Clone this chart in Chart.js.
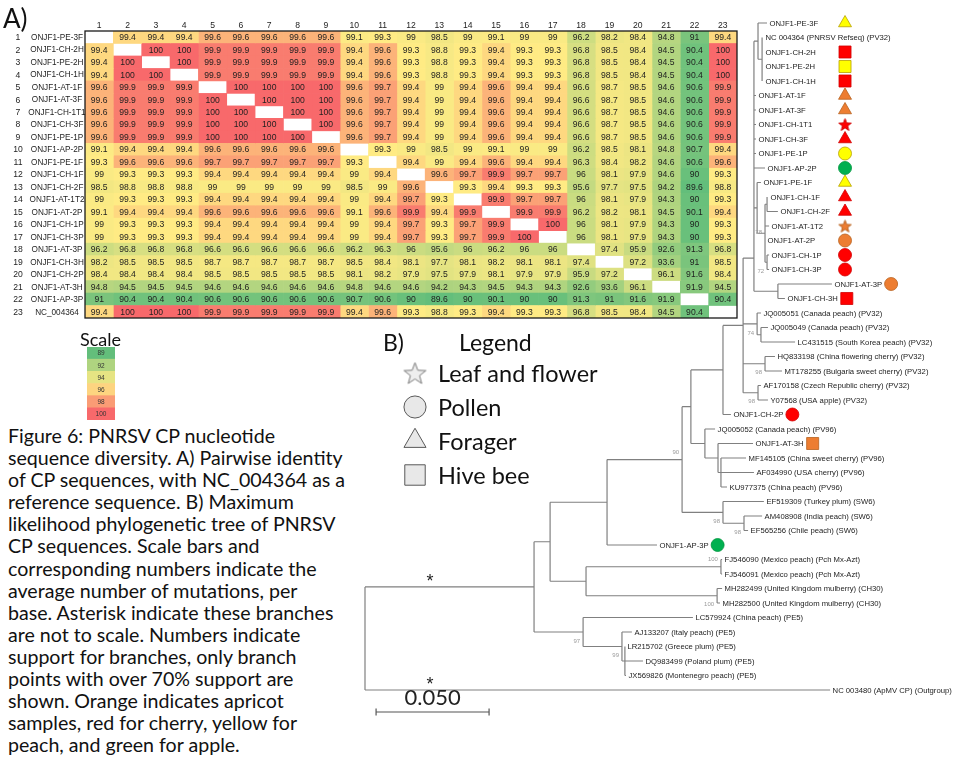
<!DOCTYPE html>
<html>
<head>
<meta charset="utf-8">
<title>PNRSV CP nucleotide sequence diversity</title>
<script src="https://cdn.jsdelivr.net/npm/chart.js"></script>
<style>
	body { margin: 0; width: 954px; height: 767px; position: relative; overflow: hidden; background: #fff; color: #111; font-family: Lato, "Liberation Sans", sans-serif; }
	canvas, .txt { position: absolute; }
	.txt { white-space: nowrap; }
	#heat { left: 0; top: 0; }
	#scale { left: 87px; top: 347px; }
	#tree { left: 355px; top: 0; }
	#legend { left: 380px; top: 325px; }
	#labelA { left: 3px; top: 1px; font-size: 26px; line-height: 34px; }
	#scaleTitle { left: 80px; top: 327px; font-size: 18px; line-height: 24px; }
	#labelB { left: 383px; top: 327px; font-size: 23px; line-height: 30px; }
	#legendTitle { left: 459px; top: 327px; font-size: 23px; line-height: 30px; }
	#caption { left: 8px; top: 425px; font-size: 19.6px; line-height: 22.1px; }
</style>
</head>
<body>
<canvas id="heat" width="745" height="323"></canvas>
<canvas id="scale" width="28" height="73"></canvas>
<canvas id="tree" width="599" height="767"></canvas>
<canvas id="legend" width="240" height="170"></canvas>
<div class="txt" id="labelA">A)</div>
<div class="txt" id="scaleTitle">Scale</div>
<div class="txt" id="labelB">B)</div>
<div class="txt" id="legendTitle">Legend</div>
<div class="txt" id="caption"></div>
<script>
// ---- A) pairwise identity (%) ----
const rowNames = [
	"ONJF1-PE-3F", "ONJF1-CH-2H", "ONJF1-PE-2H", "ONJF1-CH-1H", "ONJF1-AT-1F", "ONJF1-AT-3F",
	"ONJF1-CH-1T1", "ONJF1-CH-3F", "ONJF1-PE-1P", "ONJF1-AP-2P", "ONJF1-PE-1F", "ONJF1-CH-1F",
	"ONJF1-CH-2F", "ONJF1-AT-1T2", "ONJF1-AT-2P", "ONJF1-CH-1P", "ONJF1-CH-3P", "ONJF1-AT-3P",
	"ONJF1-CH-3H", "ONJF1-CH-2P", "ONJF1-AT-3H", "ONJF1-AP-3P", "NC_004364",
];

// lower triangle, row i holds columns 1..i-1 (matrix is symmetric)
const lowerTriangle = [
	[],
	[99.4],
	[99.4, 100],
	[99.4, 100, 100],
	[99.6, 99.9, 99.9, 99.9],
	[99.6, 99.9, 99.9, 99.9, 100],
	[99.6, 99.9, 99.9, 99.9, 100, 100],
	[99.6, 99.9, 99.9, 99.9, 100, 100, 100],
	[99.6, 99.9, 99.9, 99.9, 100, 100, 100, 100],
	[99.1, 99.4, 99.4, 99.4, 99.6, 99.6, 99.6, 99.6, 99.6],
	[99.3, 99.6, 99.6, 99.6, 99.7, 99.7, 99.7, 99.7, 99.7, 99.3],
	[99, 99.3, 99.3, 99.3, 99.4, 99.4, 99.4, 99.4, 99.4, 99, 99.4],
	[98.5, 98.8, 98.8, 98.8, 99, 99, 99, 99, 99, 98.5, 99, 99.6],
	[99, 99.3, 99.3, 99.3, 99.4, 99.4, 99.4, 99.4, 99.4, 99, 99.4, 99.7, 99.3],
	[99.1, 99.4, 99.4, 99.4, 99.6, 99.6, 99.6, 99.6, 99.6, 99.1, 99.6, 99.9, 99.4, 99.9],
	[99, 99.3, 99.3, 99.3, 99.4, 99.4, 99.4, 99.4, 99.4, 99, 99.4, 99.7, 99.3, 99.7, 99.9],
	[99, 99.3, 99.3, 99.3, 99.4, 99.4, 99.4, 99.4, 99.4, 99, 99.4, 99.7, 99.3, 99.7, 99.9, 100],
	[96.2, 96.8, 96.8, 96.8, 96.6, 96.6, 96.6, 96.6, 96.6, 96.2, 96.3, 96, 95.6, 96, 96.2, 96, 96],
	[98.2, 98.5, 98.5, 98.5, 98.7, 98.7, 98.7, 98.7, 98.7, 98.5, 98.4, 98.1, 97.7, 98.1, 98.2, 98.1, 98.1, 97.4],
	[98.4, 98.4, 98.4, 98.4, 98.5, 98.5, 98.5, 98.5, 98.5, 98.1, 98.2, 97.9, 97.5, 97.9, 98.1, 97.9, 97.9, 95.9, 97.2],
	[94.8, 94.5, 94.5, 94.5, 94.6, 94.6, 94.6, 94.6, 94.6, 94.8, 94.6, 94.6, 94.2, 94.3, 94.5, 94.3, 94.3, 92.6, 93.6, 96.1],
	[91, 90.4, 90.4, 90.4, 90.6, 90.6, 90.6, 90.6, 90.6, 90.7, 90.6, 90, 89.6, 90, 90.1, 90, 90, 91.3, 91, 91.6, 91.9],
	[99.4, 100, 100, 100, 99.9, 99.9, 99.9, 99.9, 99.9, 99.4, 99.6, 99.3, 98.8, 99.3, 99.4, 99.3, 99.3, 96.8, 98.5, 98.4, 94.5, 90.4],
];

const scaleLabels = ["89", "92", "94", "96", "98", "100"];

// ---- B) ML tree ----
const tipNames = [
	"ONJF1-PE-3F", "NC 004364 (PNRSV Refseq) (PV32)", "ONJF1-CH-2H", "ONJF1-PE-2H", "ONJF1-CH-1H",
	"ONJF1-AT-1F", "ONJF1-AT-3F", "ONJF1-CH-1T1", "ONJF1-CH-3F", "ONJF1-PE-1P", "ONJF1-AP-2P",
	"ONJF1-PE-1F", "ONJF1-CH-1F", "ONJF1-CH-2F", "ONJF1-AT-1T2", "ONJF1-AT-2P", "ONJF1-CH-1P",
	"ONJF1-CH-3P", "ONJF1-AT-3P", "ONJF1-CH-3H",
	"JQ005051 (Canada peach) (PV32)", "JQ005049 (Canada peach) (PV32)", "LC431515 (South Korea peach) (PV32)",
	"HQ833198 (China flowering cherry) (PV32)", "MT178255 (Bulgaria sweet cherry) (PV32)",
	"AF170158 (Czech Republic cherry) (PV32)", "Y07568 (USA apple) (PV32)", "ONJF1-CH-2P",
	"JQ005052 (Canada peach) (PV96)", "ONJF1-AT-3H", "MF145105 (China sweet cherry) (PV96)",
	"AF034990 (USA cherry) (PV96)", "KU977375 (China peach) (PV96)", "EF519309 (Turkey plum) (SW6)",
	"AM408908 (India peach) (SW6)", "EF565256 (Chile peach) (SW6)", "ONJF1-AP-3P",
	"FJ546090 (Mexico peach) (Pch Mx-Azt)", "FJ546091 (Mexico peach) (Pch Mx-Azt)",
	"MH282499 (United Kingdom mulberry) (CH30)", "MH282500 (United Kingdom mulberry) (CH30)",
	"LC579924 (China peach) (PE5)", "AJ133207 (Italy peach) (PE5)", "LR215702 (Greece plum) (PE5)",
	"DQ983499 (Poland plum) (PE5)", "JX569826 (Montenegro peach) (PE5)", "NC 003480 (ApMV CP) (Outgroup)",
];

// distance from the root (substitutions per site, as drawn)
const tipDepth = [
	0.1779, 0.1761, 0.1761, 0.1761, 0.1761, 0.1730, 0.1730, 0.1730, 0.1730, 0.1730,
	0.1770, 0.1752, 0.1783, 0.1827, 0.1788, 0.1770, 0.1788, 0.1788, 0.2066, 0.1858,
	0.1752, 0.1783, 0.1903, 0.1814, 0.1845, 0.1752, 0.1783, 0.1619, 0.1549, 0.1717,
	0.1686, 0.1721, 0.1602, 0.1765, 0.1757, 0.1695, 0.1292, 0.1580, 0.1580, 0.1580,
	0.1571, 0.1451, 0.1181, 0.1150, 0.1230, 0.1155, 0.2058,
];

const nodeIds = ["C", "B", "G", "H", "E", "D", "F", "A", "JQb", "JQ", "HQ", "AFn", "N1", "M", "T", "S", "R", "P",
	"V", "SW6", "Q2", "W", "Mex", "Mul", "Y", "X", "PE5c", "PE5b", "PE5", "Z", "root"];
const nodeDepth = [0.1757, 0.1739, 0.1779, 0.1779, 0.1770, 0.1735, 0.1827, 0.1721, 0.1752, 0.1735, 0.1770, 0.1739,
	0.1673, 0.1584, 0.1575, 0.1562, 0.1504, 0.1442, 0.1677, 0.1584, 0.1403, 0.1071, 0.1575, 0.1558, 0.0978,
	0.0819, 0.1150, 0.1137, 0.0965, 0.0748, 0];
const nodeChildren = [
	[1, 2, 3, 4], [0, "C"], [12, 13], [16, 17], ["G", 14, 15, "H"], [11, "E"], [18, 19],
	["B", 5, 6, 7, 8, 9, 10, "D", "F"], [21, 22], [20, "JQb"], [23, 24], [25, 26], ["A", "JQ", "HQ", "AFn"],
	["N1", 27], [30, 31, 32], [29, "T"], [28, "S"], ["M", "R"], [34, 35], [33, "V"], ["P", "SW6"],
	["Q2", 36], [37, 38], [39, 40], ["Mex", "Mul"], ["W", "Y"], [43, 44, 45], [42, "PE5c"], [41, "PE5b"],
	["X", "PE5"], ["Z", 46],
];
const nodeRowOverride = { A: 16.21 };

const supportNodes = ["E", "H", "JQ", "HQ", "AFn", "Q2", "SW6", "V", "Mex", "Mul", "PE5", "PE5b"];
const supportValues = [78, 72, 74, 98, 98, 90, 98, 98, 100, 100, 97, 99];
const supportSide = ["level", "below", "below", "below", "below", "above", "below", "below", "above", "below", "below", "below"];

const markerTips = [0, 2, 3, 4, 5, 6, 7, 8, 9, 10, 11, 12, 13, 14, 15, 16, 17, 18, 19, 27, 29, 36];
const markerSample = ["forager", "hive", "hive", "hive", "forager", "forager", "leaf", "forager", "pollen", "pollen",
	"forager", "forager", "forager", "leaf", "pollen", "pollen", "pollen", "pollen", "hive", "pollen", "hive", "pollen"];
const markerHost = ["peach", "cherry", "peach", "cherry", "apricot", "apricot", "cherry", "cherry", "peach", "apple",
	"peach", "cherry", "cherry", "apricot", "apricot", "cherry", "cherry", "apricot", "cherry", "cherry", "apricot", "apple"];

const legendSamples = ["leaf", "pollen", "forager", "hive"];
const legendLabels = ["Leaf and flower", "Pollen", "Forager", "Hive bee"];

const SCALE_BAR_LENGTH = 0.05;
const SCALE_BAR_START = 0.0049;
const ASTERISK_DEPTH = 0.0288;

const captionLines = [
	"Figure 6: PNRSV CP nucleotide",
	"sequence diversity. A) Pairwise identity",
	"of CP sequences, with NC_004364 as a",
	"reference sequence. B) Maximum",
	"likelihood phylogenetic tree of PNRSV",
	"CP sequences. Scale bars and",
	"corresponding numbers indicate the",
	"average number of mutations, per",
	"base. Asterisk indicate these branches",
	"are not to scale. Numbers indicate",
	"support for branches, only branch",
	"points with over 70% support are",
	"shown. Orange indicates apricot",
	"samples, red for cherry, yellow for",
	"peach, and green for apple.",
];

// ---- styles ----
const LOW_RGB = [99, 190, 123];
const MID_RGB = [255, 235, 132];
const HIGH_RGB = [248, 105, 107];
const SCALE_COLORS = ["#63BE7B", "#AFD480", "#E6E483", "#FDD480", "#FA9C75", "#F8696B"];
const HOST_COLORS = { apricot: "#ED7D31", cherry: "#FF0000", peach: "#FFFF00", apple: "#00B050" };
const HOST_BORDERS = { apricot: "#B8621F", cherry: "#D00000", peach: "#B8A000", apple: "#00963F" };
const CELL_FONT = '8.6px "Liberation Sans"';
const NAME_FONT = '8.2px "Liberation Sans"';
const TREE_FONT = '7.7px "Liberation Sans"';
const SUPPORT_FONT = '6px "Liberation Sans"';
const LABEL_GAP = 2.5;
const MARKER_GAP = 9;
const MARKER_COLUMN = 0.2124;

Chart.defaults.font.family = '"Liberation Sans", sans-serif';

document.getElementById("caption").innerHTML = captionLines.join("<br>");

// full symmetric matrix
const identity = rowNames.map((_, i) =>
	rowNames.map((_, j) => (i === j ? null : i > j ? lowerTriangle[i][j] : lowerTriangle[j][i])),
);
const allValues = identity.flat().filter((v) => v !== null).sort((a, b) => a - b);
const scaleMin = allValues[0];
const scaleMax = allValues[allValues.length - 1];
const half = (allValues.length - 1) / 2;
const scaleMid = (allValues[Math.floor(half)] + allValues[Math.ceil(half)]) / 2;

function mix(a, b, t) {
	return `rgb(${a.map((c, k) => Math.round(c + (b[k] - c) * t)).join(",")})`;
}

function identityColor(v) {
	if (v <= scaleMid) return mix(LOW_RGB, MID_RGB, (v - scaleMin) / (scaleMid - scaleMin));
	return mix(MID_RGB, HIGH_RGB, (v - scaleMid) / (scaleMax - scaleMid));
}

const heatText = {
	id: "heatText",
	afterDatasetsDraw(chart) {
		const { ctx, chartArea: a, scales: { x, y } } = chart;
		ctx.save();
		ctx.textAlign = "center";
		ctx.textBaseline = "middle";
		ctx.fillStyle = "#1e1e1e";
		identity.forEach((row, i) => {
			const py = y.getPixelForValue(i) + 0.5;
			ctx.font = CELL_FONT;
			row.forEach((v, j) => {
				if (v !== null) ctx.fillText(String(v), x.getPixelForValue(j + 1), py);
			});
			ctx.fillText(String(i + 1), 18, py);
			ctx.fillText(String(i + 1), x.getPixelForValue(i + 1), a.top - 5);
			ctx.font = NAME_FONT;
			ctx.fillText(rowNames[i], 57, py);
		});
		ctx.strokeStyle = "#1a1a1a";
		ctx.lineWidth = 1.3;
		ctx.strokeRect(a.left, a.top, a.right - a.left, a.bottom - a.top);
		ctx.restore();
	},
};

new Chart(document.getElementById("heat"), {
	type: "bar",
	data: {
		labels: rowNames,
		datasets: rowNames.map((_, j) => ({
			label: String(j + 1),
			data: identity.map((row) => (row[j] === null ? null : [j + 0.5, j + 1.5])),
			backgroundColor: identity.map((row) => (row[j] === null ? "#fff" : identityColor(row[j]))),
			grouped: false,
			barPercentage: 1,
			categoryPercentage: 1,
			borderWidth: 0,
		})),
	},
	options: {
		indexAxis: "y",
		responsive: false,
		animation: false,
		events: [],
		layout: { padding: { left: 85, top: 31, right: 8, bottom: 5 }, autoPadding: false },
		plugins: { legend: { display: false }, tooltip: { enabled: false } },
		scales: {
			x: { type: "linear", min: 0.5, max: 23.5, display: false },
			y: { display: false },
		},
	},
	plugins: [heatText],
});

// ---- colour scale swatches ----
const swatchText = {
	id: "swatchText",
	afterDatasetsDraw(chart) {
		const { ctx, scales: { x, y } } = chart;
		ctx.save();
		ctx.font = '6.5px "Liberation Sans"';
		ctx.fillStyle = "#333";
		ctx.textAlign = "center";
		ctx.textBaseline = "middle";
		scaleLabels.forEach((label, k) => ctx.fillText(label, x.getPixelForValue(0.5), y.getPixelForValue(k) + 0.5));
		ctx.restore();
	},
};

new Chart(document.getElementById("scale"), {
	type: "bar",
	data: {
		labels: scaleLabels,
		datasets: [{
			data: scaleLabels.map(() => [0, 1]),
			backgroundColor: SCALE_COLORS,
			barPercentage: 1,
			categoryPercentage: 1,
			borderWidth: 0,
		}],
	},
	options: {
		indexAxis: "y",
		responsive: false,
		animation: false,
		events: [],
		layout: { padding: 0, autoPadding: false },
		plugins: { legend: { display: false }, tooltip: { enabled: false } },
		scales: { x: { type: "linear", min: 0, max: 1, display: false }, y: { display: false } },
	},
	plugins: [swatchText],
});

// ---- tree ----
function makeStar(size, fill, stroke) {
	const c = document.createElement("canvas");
	c.width = size;
	c.height = size;
	const g = c.getContext("2d");
	const outer = size / 2 - 1;
	const inner = outer * 0.42;
	const cx = size / 2;
	const cy = size / 2 + outer * 0.1;
	g.beginPath();
	for (let k = 0; k < 10; k++) {
		const ang = -Math.PI / 2 + (k * Math.PI) / 5;
		const r = k % 2 ? inner : outer;
		g.lineTo(cx + r * Math.cos(ang), cy + r * Math.sin(ang));
	}
	g.closePath();
	g.fillStyle = fill;
	g.fill();
	g.strokeStyle = stroke;
	g.lineWidth = 1;
	g.stroke();
	return c;
}

const nodeIndex = Object.fromEntries(nodeIds.map((id, k) => [id, k]));
const rowCache = {};

function childRow(c) {
	return typeof c === "number" ? c : nodeRow(c);
}

function childDepth(c) {
	return typeof c === "number" ? tipDepth[c] : nodeDepth[nodeIndex[c]];
}

function nodeRow(id) {
	if (id in rowCache) return rowCache[id];
	const rows = nodeChildren[nodeIndex[id]].map(childRow);
	const row = id in nodeRowOverride ? nodeRowOverride[id] : (rows[0] + rows[rows.length - 1]) / 2;
	rowCache[id] = row;
	return row;
}

function tipsUnder(id) {
	return nodeChildren[nodeIndex[id]].flatMap((c) => (typeof c === "number" ? [c] : tipsUnder(c)));
}

const branchPoints = [];
nodeIds.forEach((id, k) => {
	const d = nodeDepth[k];
	const rows = nodeChildren[k].map(childRow).concat(nodeRow(id));
	branchPoints.push({ x: d, y: Math.min(...rows) }, { x: d, y: Math.max(...rows) }, { x: null, y: null });
	for (const c of nodeChildren[k]) {
		branchPoints.push({ x: d, y: childRow(c) }, { x: childDepth(c), y: childRow(c) }, { x: null, y: null });
	}
});

const TREE_W = 599;
const TREE_H = 767;
const TREE_X_MIN = -10 / 2260;
const TREE_X_MAX = TREE_X_MIN + TREE_W / 2260;
const TREE_Y_MIN = -23 / 14.5;
const TREE_Y_MAX = TREE_Y_MIN + TREE_H / 14.5;
const pxPerUnit = TREE_W / (TREE_X_MAX - TREE_X_MIN);
const scaleBarRow = TREE_Y_MIN + 712 / 14.5;

const measure = document.createElement("canvas").getContext("2d");
measure.font = TREE_FONT;
const alignedTips = tipsUnder("A");
const markerPoints = markerTips.map((i) => {
	const labelEnd = tipDepth[i] + (LABEL_GAP + measure.measureText(tipNames[i]).width) / pxPerUnit;
	const afterLabel = labelEnd + MARKER_GAP / pxPerUnit;
	return { x: alignedTips.includes(i) ? Math.max(MARKER_COLUMN, afterLabel) : afterLabel, y: i };
});

const starCache = {};
function markerStyle(sample, fill, stroke, big) {
	if (sample === "leaf") {
		const key = fill + big;
		if (!starCache[key]) starCache[key] = makeStar(big ? 25 : 15, fill, stroke);
		return starCache[key];
	}
	return { pollen: "circle", forager: "triangle", hive: "rect" }[sample];
}

function markerRadius(sample, big) {
	const r = { leaf: 7, pollen: 6.5, forager: 7.5, hive: 8.5 }[sample];
	return big ? r * 1.7 : r;
}

const treeText = {
	id: "treeText",
	afterDatasetsDraw(chart) {
		const { ctx, scales: { x, y } } = chart;
		ctx.save();
		ctx.textBaseline = "middle";
		ctx.textAlign = "left";
		ctx.fillStyle = "#222";
		ctx.font = TREE_FONT;
		tipNames.forEach((name, i) => ctx.fillText(name, x.getPixelForValue(tipDepth[i]) + LABEL_GAP, y.getPixelForValue(i) + 0.5));

		ctx.font = SUPPORT_FONT;
		ctx.fillStyle = "#9a9a9a";
		ctx.textAlign = "right";
		supportNodes.forEach((id, k) => {
			const dy = { above: -7, below: 9, level: -1 }[supportSide[k]];
			ctx.fillText(String(supportValues[k]), x.getPixelForValue(nodeDepth[nodeIndex[id]]) - 3, y.getPixelForValue(nodeRow(id)) + dy);
		});

		ctx.fillStyle = "#222";
		ctx.textAlign = "center";
		ctx.font = '18px "Liberation Sans"';
		for (const row of nodeChildren[nodeIndex.root].map(childRow)) {
			ctx.fillText("*", x.getPixelForValue(ASTERISK_DEPTH), y.getPixelForValue(row) - 5);
		}
		ctx.font = "22px Lato";
		ctx.fillText(SCALE_BAR_LENGTH.toFixed(3), x.getPixelForValue(SCALE_BAR_START + SCALE_BAR_LENGTH / 2), y.getPixelForValue(scaleBarRow) - 14);
		ctx.restore();
	},
};

new Chart(document.getElementById("tree"), {
	type: "scatter",
	data: {
		datasets: [
			{
				label: "samples",
				data: markerPoints,
				pointStyle: markerTips.map((_, k) => markerStyle(markerSample[k], HOST_COLORS[markerHost[k]], HOST_BORDERS[markerHost[k]], false)),
				pointRadius: markerTips.map((_, k) => markerRadius(markerSample[k], false)),
				pointBackgroundColor: markerHost.map((h) => HOST_COLORS[h]),
				pointBorderColor: markerHost.map((h) => HOST_BORDERS[h]),
				pointBorderWidth: 0.8,
			},
			{
				label: "scale bar",
				data: [
					{ x: SCALE_BAR_START, y: scaleBarRow },
					{ x: SCALE_BAR_START + SCALE_BAR_LENGTH, y: scaleBarRow },
				],
				showLine: true,
				borderColor: "#555",
				borderWidth: 1.2,
				pointStyle: "line",
				pointRotation: 90,
				pointRadius: 3.5,
				pointBorderColor: "#555",
				pointBorderWidth: 1.2,
			},
			{
				label: "branches",
				data: branchPoints,
				showLine: true,
				spanGaps: false,
				borderColor: "#808080",
				borderWidth: 1.2,
				pointRadius: 0,
			},
		],
	},
	options: {
		responsive: false,
		animation: false,
		events: [],
		layout: { padding: 0, autoPadding: false },
		plugins: { legend: { display: false }, tooltip: { enabled: false } },
		scales: {
			x: { type: "linear", min: TREE_X_MIN, max: TREE_X_MAX, display: false },
			y: { type: "linear", min: TREE_Y_MIN, max: TREE_Y_MAX, reverse: true, display: false },
		},
	},
	plugins: [treeText],
});

// ---- symbol legend ----
const legendText = {
	id: "legendText",
	afterDatasetsDraw(chart) {
		const { ctx, scales: { x, y } } = chart;
		ctx.save();
		ctx.font = "23.5px Lato";
		ctx.fillStyle = "#111";
		ctx.textBaseline = "middle";
		legendLabels.forEach((label, k) => ctx.fillText(label, x.getPixelForValue(0) + 23, y.getPixelForValue(k) + 1));
		ctx.restore();
	},
};

new Chart(document.getElementById("legend"), {
	type: "scatter",
	data: {
		datasets: [{
			label: "legend",
			data: legendSamples.map((_, k) => ({ x: 0, y: k })),
			pointStyle: legendSamples.map((s) => markerStyle(s, "#EEEEEE", "#7a7a7a", true)),
			pointRadius: legendSamples.map((s) => markerRadius(s, true)),
			pointBackgroundColor: "#E8E8E8",
			pointBorderColor: "#595959",
			pointBorderWidth: 1,
		}],
	},
	options: {
		responsive: false,
		animation: false,
		events: [],
		layout: { padding: 0, autoPadding: false },
		plugins: { legend: { display: false }, tooltip: { enabled: false } },
		scales: {
			x: { type: "linear", min: -1, max: -1 + 240 / 35, display: false },
			y: { type: "linear", min: -48 / 34, max: -48 / 34 + 170 / 34, reverse: true, display: false },
		},
	},
	plugins: [legendText],
});
</script>
</body>
</html>
